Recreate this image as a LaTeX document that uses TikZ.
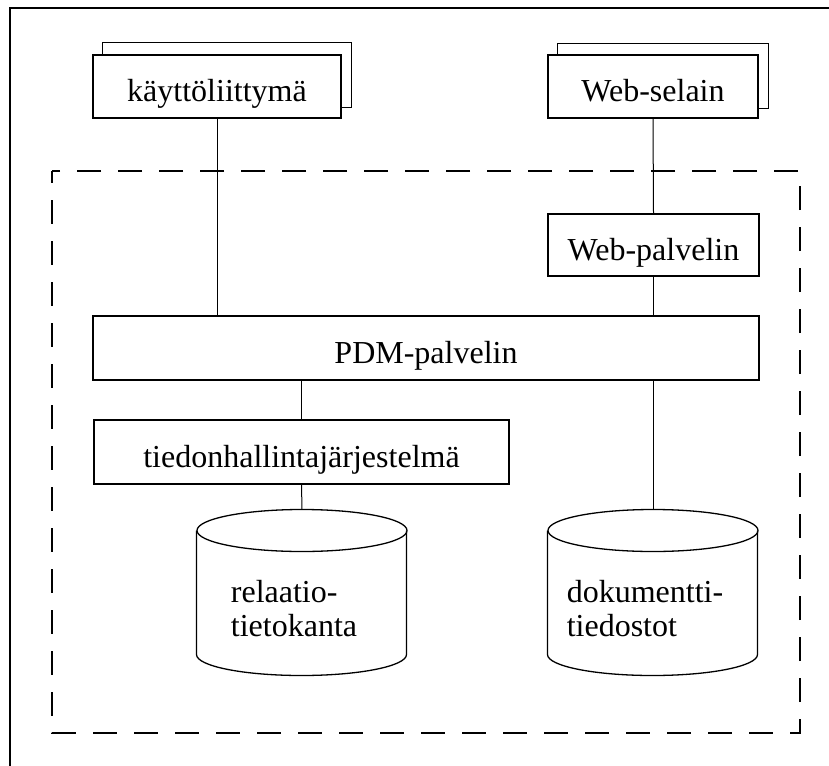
\documentclass[tikz,border=0pt]{standalone}
\usepackage{fontspec}
\setmainfont{Liberation Serif}
\usetikzlibrary{positioning}

\begin{document}
\begin{tikzpicture}[x=1pt,y=-1pt,line width=1pt,
  laatikko/.style={draw, line width=1.3pt, inner sep=0pt, minimum height=63pt,
    text height=31pt, text depth=0pt, font=\fontsize{32}{33}\selectfont},
  levy/.style={inner sep=0pt, minimum width=210pt, minimum height=166pt},
  levyteksti/.style={align=left, font=\fontsize{32}{34}\selectfont, yshift=-16pt, xshift=-8pt},
  levyviiva/.style={line width=1.3pt}]
\useasboundingbox (0,0) rectangle (829,765);

\draw[line width=1.6pt] (10,780) -- (10,8) -- (850,8);
\draw[line width=1.3pt, dash pattern=on 24pt off 17pt, dash phase=12pt] (52,171) rectangle (800,733);

\node[laatikko, minimum width=248pt] (kayttoliittyma) at (217,86.5) {käyttöliittymä};
\node[laatikko, minimum width=210pt] (webselain) at (653,86.5) {Web-selain};
\node[laatikko, minimum width=211pt, minimum height=62pt] (webpalvelin) at (653.5,245) {Web-palvelin};
\node[laatikko, minimum width=666pt, minimum height=64pt] (pdm) at (426,348) {PDM-palvelin};
\node[laatikko, minimum width=415pt, minimum height=64pt] (tiedonhallinta) at (301.5,452) {tiedonhallintajärjestelmä};

\node[levy, label={[levyteksti]center:relaatio-\\tietokanta}] (relaatio) at (302,593) {};
\node[levy, label={[levyteksti]center:dokumentti-\\tiedostot}] (dokumentit) at (653,593) {};

% takimmaiset laatikot
\draw[line width=1.3pt] ([xshift=10pt]kayttoliittyma.north west) -- ([xshift=10pt,yshift=12pt]kayttoliittyma.north west)
  -- ([xshift=10pt,yshift=12pt]kayttoliittyma.north east) -- ([xshift=10pt,yshift=11pt]kayttoliittyma.south east)
  -- ([yshift=11pt]kayttoliittyma.south east);
\draw[line width=1.3pt] ([xshift=10pt]webselain.north west) -- ([xshift=10pt,yshift=11pt]webselain.north west)
  -- ([xshift=10pt,yshift=11pt]webselain.north east) -- ([xshift=10pt,yshift=10pt]webselain.south east)
  -- ([yshift=10pt]webselain.south east);

% sylinterit
\draw[levyviiva] ([yshift=-21pt]relaatio.north) ellipse (105pt and 21pt);
\draw[levyviiva] (relaatio.north west) ++(0,21) -- ++(0,124) arc (180:360:105pt and 21pt) -- ++(0,-124);
\draw[levyviiva] ([yshift=-21pt]dokumentit.north) ellipse (105pt and 21pt);
\draw[levyviiva] (dokumentit.north west) ++(0,21) -- ++(0,124) arc (180:360:105pt and 21pt) -- ++(0,-124);

\draw (kayttoliittyma.south) -- (kayttoliittyma.south |- pdm.north);
\draw (webselain.south) -- (webpalvelin.north);
\draw (webpalvelin.south) -- (webpalvelin.south |- pdm.north);
\draw (tiedonhallinta.north |- pdm.south) -- (tiedonhallinta.north);
\draw (tiedonhallinta.south) -- (relaatio.north);
\draw (dokumentit.north |- pdm.south) -- (dokumentit.north);
\end{tikzpicture}
\end{document}
